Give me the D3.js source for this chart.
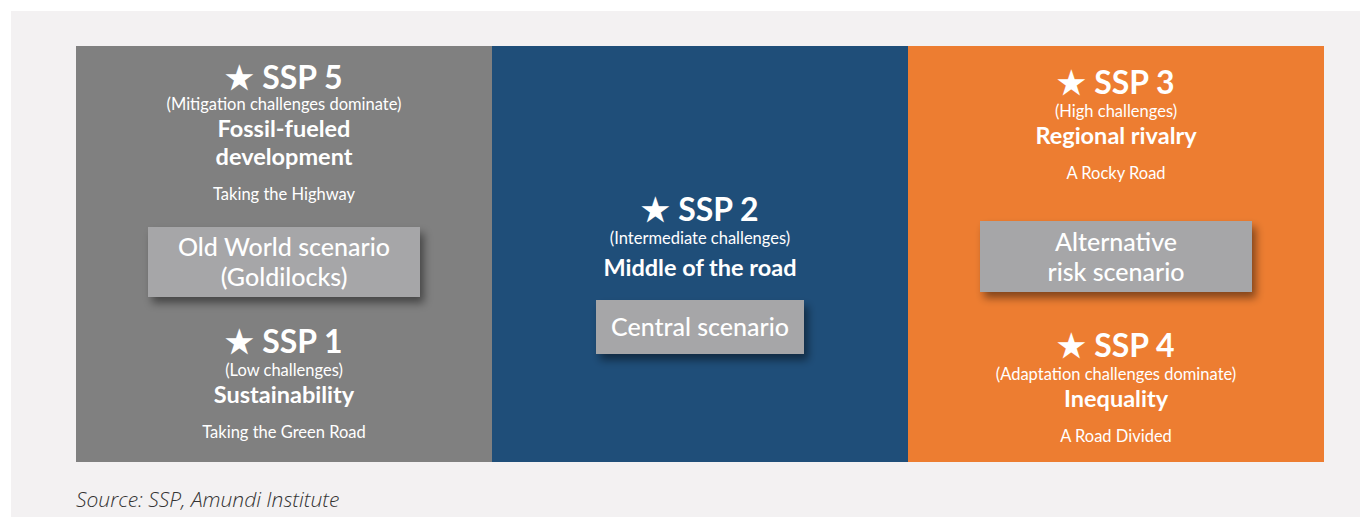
<!DOCTYPE html>
<html>
<head>
<meta charset="utf-8">
<script src="https://cdn.jsdelivr.net/npm/d3@7"></script>
<style>
  body { margin: 0; background: #fff; }
  text { font-family: Lato, "Noto Sans", sans-serif; fill: #fff; }
  text.source { font-family: "Open Sans", sans-serif; fill: #333; }
</style>
</head>
<body>
<div id="chart"></div>
<script>
// columns of the diagram
const columnKeys = ["gray", "blue", "orange"];

// the five SSP blocks
const sspIds = ["SSP 5", "SSP 1", "SSP 2", "SSP 3", "SSP 4"];
const sspColumn = [0, 0, 1, 2, 2];
const sspChallenges = [
  "(Mitigation challenges dominate)",
  "(Low challenges)",
  "(Intermediate challenges)",
  "(High challenges)",
  "(Adaptation challenges dominate)"
];
const sspNames = [
  ["Fossil-fueled", "development"],
  ["Sustainability"],
  ["Middle of the road"],
  ["Regional rivalry"],
  ["Inequality"]
];
const sspRoads = ["Taking the Highway", "Taking the Green Road", "", "A Rocky Road", "A Road Divided"];

// scenario boxes, one per column
const scenarioLines = [
  ["Old World scenario", "(Goldilocks)"],
  ["Central scenario"],
  ["Alternative", "risk scenario"]
];

const sourceText = "Source: SSP, Amundi Institute";

/** Layout */
const W = 1360, H = 517;
const frame = { left: 76, right: 1324, top: 46, bottom: 462 };
const colColors = ["#808080", "#1f4e79", "#ed7d31"];
const blockBaseline = [89, 353, 221, 94, 357];   // star line baseline for each block
const boxes = [
  { y: 227, w: 272, h: 70 },
  { y: 300, w: 208, h: 54 },
  { y: 221, w: 272, h: 71 }
];

const svg = d3.select("#chart").append("svg")
  .attr("width", W)
  .attr("height", H);

const defs = svg.append("defs");
const shadow = defs.append("filter")
  .attr("id", "shadow")
  .attr("x", "-20%").attr("y", "-30%")
  .attr("width", "150%").attr("height", "180%");
shadow.append("feDropShadow")
  .attr("dx", 4).attr("dy", 6)
  .attr("stdDeviation", 4.5)
  .attr("flood-color", "#000")
  .attr("flood-opacity", 0.45);

// light panel behind everything
svg.append("rect")
  .attr("x", 11).attr("y", 11)
  .attr("width", W - 11).attr("height", H - 11)
  .attr("fill", "#f3f1f2");

const x = d3.scaleBand()
  .domain(d3.range(columnKeys.length))
  .range([frame.left, frame.right]);

svg.append("g")
  .selectAll("rect")
  .data(columnKeys)
  .enter()
  .append("rect")
  .attr("x", (d, i) => x(i))
  .attr("y", frame.top)
  .attr("width", x.bandwidth())
  .attr("height", frame.bottom - frame.top)
  .attr("fill", (d, i) => colColors[i]);

const cx = i => x(i) + x.bandwidth() / 2;

/** SSP text blocks */
const blocks = svg.append("g")
  .selectAll("g")
  .data(sspIds)
  .enter()
  .append("g")
  .attr("transform", (d, i) => "translate(" + cx(sspColumn[i]) + "," + blockBaseline[i] + ")")
  .attr("text-anchor", "middle");

blocks.append("text")
  .attr("font-size", 32)
  .attr("font-weight", 700)
  .text(d => "\u2605 " + d);

blocks.append("text")
  .attr("y", (d, i) => i === 0 ? 21 : 23)
  .attr("font-size", 16.5)
  .attr("font-weight", 400)
  .text((d, i) => sspChallenges[i]);

blocks.each(function(d, i) {
  const g = d3.select(this);
  const nameY = i === 0 ? 48 : (i === 2 ? 55 : 50);
  const lh = 28;
  sspNames[i].forEach((line, j) => {
    g.append("text")
      .attr("y", nameY + j * lh)
      .attr("font-size", 23.5)
      .attr("font-weight", 700)
      .text(line);
  });
  if (sspRoads[i]) {
    g.append("text")
      .attr("y", nameY + (sspNames[i].length - 1) * lh + 35)
      .attr("font-size", 16.5)
      .attr("font-weight", 400)
      .text(sspRoads[i]);
  }
});

/** Scenario boxes */
const boxG = svg.append("g")
  .selectAll("g")
  .data(scenarioLines)
  .enter()
  .append("g")
  .attr("transform", (d, i) => "translate(" + cx(i) + "," + boxes[i].y + ")");

boxG.append("rect")
  .attr("x", (d, i) => -boxes[i].w / 2)
  .attr("width", (d, i) => boxes[i].w)
  .attr("height", (d, i) => boxes[i].h)
  .attr("fill", "#a6a6a8")
  .attr("filter", "url(#shadow)");

boxG.each(function(lines, i) {
  const g = d3.select(this);
  const h = boxes[i].h, lh = 30;
  const first = h / 2 - (lines.length - 1) * lh / 2 + 9;
  lines.forEach((line, j) => {
    g.append("text")
      .attr("y", first + j * lh)
      .attr("text-anchor", "middle")
      .attr("font-size", 25)
      .attr("font-weight", 500)
      .text(line);
  });
});

/** Source note */
svg.append("text")
  .attr("class", "source")
  .attr("x", frame.left)
  .attr("y", 507)
  .attr("font-size", 21)
  .attr("font-style", "italic")
  .attr("font-weight", 300)
  .text(sourceText);
</script>
</body>
</html>
